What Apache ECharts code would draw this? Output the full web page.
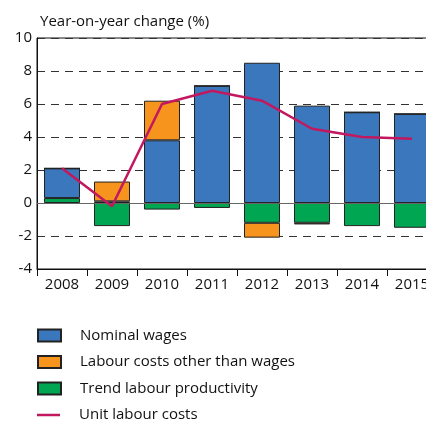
<!DOCTYPE html>
<html><head><meta charset="utf-8">
<script src="https://cdn.jsdelivr.net/npm/echarts@6/dist/echarts.min.js"></script>
<style>html,body{margin:0;padding:0;background:#fff}#c{width:426px;height:421px}</style>
</head><body><div id="c"></div>
<script>
const years = ['2008','2009','2010','2011','2012','2013','2014','2015'];
const nominalWages = [1.8, 0.1, 3.8, 7.1, 8.5, 5.9, 5.5, 5.4];
const otherLabourCosts = [0, 1.2, 2.4, 0, -0.9, -0.1, 0, 0];
const trendProductivity = [0.3, -1.4, -0.4, -0.3, -1.2, -1.2, -1.4, -1.5];
const unitLabourCosts = [2.1, -0.2, 6.0, 6.8, 6.2, 4.5, 4.0, 3.9];
const yTicks = [-4, -2, 0, 2, 4, 6, 8, 10];
const legendNames = ['Nominal wages', 'Labour costs other than wages', 'Trend labour productivity', 'Unit labour costs'];

const FONT = 'Open Sans';
const chart = echarts.init(document.getElementById('c'), null, {renderer: 'canvas'});
const border = {borderColor: '#222', borderWidth: 1};
const legendTops = [328, 354.5, 381, 407.5];
const legends = legendNames.map((name, i) => ({
  orient: 'vertical', left: 37, top: legendTops[i], padding: 0, itemWidth: 23, itemHeight: 12,
  textStyle: {fontFamily: FONT, fontSize: 15, lineHeight: 12, color: '#111', padding: [0, 0, 0, 14]},
  data: [i < 3 ? {name: name, icon: 'rect'} :
    {name: name, icon: 'path://M0,0 L23,0 L23,2.5 L0,2.5 Z', itemStyle: {color: '#c2185f', borderWidth: 0}}]
}));
chart.setOption({
  animation: false,
  textStyle: {fontFamily: FONT, color: '#111'},
  title: {text: 'Year-on-year change (%)', left: 35, top: 9,
    textStyle: {fontFamily: FONT, fontSize: 15, fontWeight: 'normal', color: '#111'}},
  grid: {left: 37, top: 38, width: 400, height: 231, outerBoundsMode: 'none', containLabel: false,
    show: true, borderColor: '#111', borderWidth: 1, backgroundColor: 'transparent'},
  legend: legends,
  xAxis: {
    type: 'category', data: years, boundaryGap: true,
    axisLine: {onZero: false, lineStyle: {color: '#111', width: 1}},
    axisTick: {show: true, length: 7, lineStyle: {color: '#111'}},
    axisLabel: {fontFamily: FONT, fontSize: 15, color: '#111', margin: 8},
    splitLine: {show: false}
  },
  yAxis: {
    type: 'value', min: yTicks[0], max: yTicks[yTicks.length - 1], interval: 2,
    axisLine: {show: true, lineStyle: {color: '#111', width: 1}},
    axisTick: {show: false},
    axisLabel: {fontFamily: FONT, fontSize: 15, color: '#111', margin: 5},
    splitLine: {show: true, lineStyle: {color: '#333', width: 1, type: [8, 6]}}
  },
  series: [
    {name: legendNames[2], type: 'bar', stack: 'a', data: trendProductivity,
      barCategoryGap: '28%', itemStyle: Object.assign({color: '#00a651'}, border),
      markLine: {silent: true, symbol: 'none', label: {show: false},
        lineStyle: {color: '#666', type: 'solid', width: 1}, data: [{yAxis: 0}]}},
    {name: legendNames[0], type: 'bar', stack: 'a', data: nominalWages,
      itemStyle: Object.assign({color: '#3a77bd'}, border)},
    {name: legendNames[1], type: 'bar', stack: 'a', data: otherLabourCosts,
      itemStyle: Object.assign({color: '#f7941d'}, border)},
    {name: legendNames[3], type: 'line', data: unitLabourCosts, symbol: 'none',
      lineStyle: {color: '#c2185f', width: 2.5}, itemStyle: {color: '#c2185f'}, z: 5}
  ]
});
</script></body></html>
